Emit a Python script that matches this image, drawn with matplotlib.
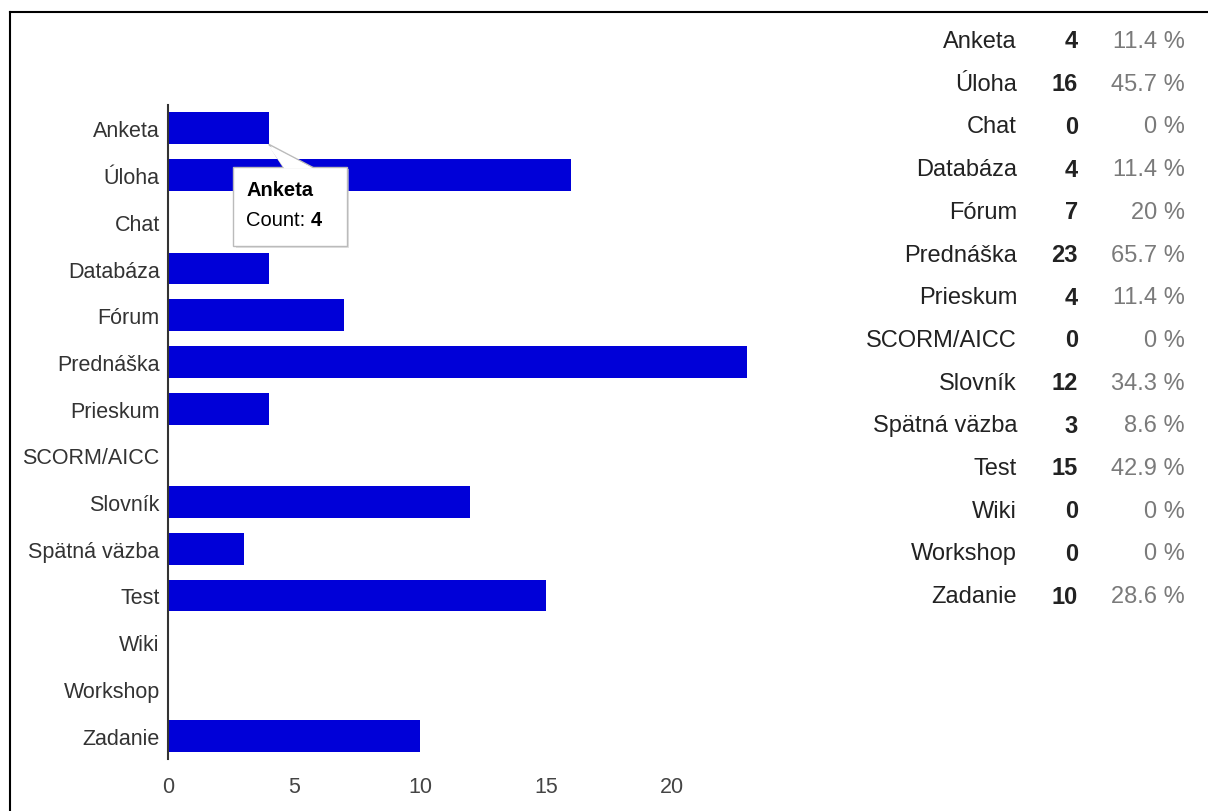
import matplotlib
matplotlib.use("Agg")
import matplotlib.pyplot as plt
from matplotlib.patches import Rectangle, Polygon
from matplotlib.lines import Line2D
import numpy as np

# ── Data ──────────────────────────────────────────────────────────────────────
CATEGORIES = ["Anketa", "Úloha", "Chat", "Databáza", "Fórum", "Prednáška",
              "Prieskum", "SCORM/AICC", "Slovník", "Spätná väzba", "Test",
              "Wiki", "Workshop", "Zadanie"]
COUNTS = [4, 16, 0, 4, 7, 23, 4, 0, 12, 3, 15, 0, 0, 10]
PERCENTS = ["11.4 %", "45.7 %", "0 %", "11.4 %", "20 %", "65.7 %", "11.4 %",
            "0 %", "34.3 %", "8.6 %", "42.9 %", "0 %", "0 %", "28.6 %"]
X_TICKS = [0, 5, 10, 15, 20]

BLUE = "#0000d8"
TEXT = "#222222"
GREY = "#7a7a7a"
FS = 15.5       # chart labels
FS_TAB = 17     # table on the right

plt.rcParams["font.family"] = ["Liberation Sans", "DejaVu Sans"]


def make_figure():
    fig = plt.figure(figsize=(12.08, 8.12), dpi=100)
    fig.patch.set_facecolor("white")

    # frame lines (left and top)
    fig.add_artist(Line2D([10 / 1208, 10 / 1208], [0, 1 - 13 / 812],
                          color="black", lw=1.5, transform=fig.transFigure))
    fig.add_artist(Line2D([10 / 1208, 1], [1 - 13 / 812, 1 - 13 / 812],
                          color="black", lw=1.5, transform=fig.transFigure))

    ax = fig.add_axes([168 / 1208, 52 / 812, 592 / 1208, 654 / 812])
    y = np.arange(len(CATEGORIES))
    ax.barh(y, COUNTS, height=0.68, color=BLUE, zorder=2)
    ax.set_xlim(0, 23.5)
    ax.set_ylim(len(CATEGORIES) - 0.5, -0.5)

    ax.set_yticks(y)
    ax.set_yticklabels(CATEGORIES, fontsize=FS, color="#333333")
    ax.set_xticks(X_TICKS)
    ax.set_xticklabels([str(t) for t in X_TICKS], fontsize=FS, color="#444444")
    ax.tick_params(axis="y", length=0, pad=6)
    ax.tick_params(axis="x", length=0, pad=12)
    for s in ["top", "right", "bottom"]:
        ax.spines[s].set_visible(False)
    ax.spines["left"].set_color("#333333")
    ax.spines["left"].set_linewidth(1.5)
    ax.spines["left"].set_zorder(3)

    # tooltip for Anketa
    v = COUNTS[0]
    bx0, bx1, by0, by1 = 2.6, 7.1, 0.83, 2.52
    ax.add_patch(Rectangle((bx0 + 0.08, by0 + 0.05), bx1 - bx0, by1 - by0,
                           facecolor="#d0d0d0", edgecolor="none", zorder=4,
                           alpha=0.6))
    ax.add_patch(Polygon([(v, 0.34), (4.6, by0 + 0.02), (5.8, by0 + 0.02)],
                         closed=True, facecolor="white", edgecolor="#bbbbbb",
                         lw=1, zorder=5))
    ax.add_patch(Rectangle((bx0, by0), bx1 - bx0, by1 - by0,
                           facecolor="white", edgecolor="#bbbbbb", lw=1,
                           zorder=5))
    ax.add_patch(Polygon([(v - 0.02, 0.37), (4.62, by0 + 0.03), (5.78, by0 + 0.03)],
                         closed=True, facecolor="white", edgecolor="none",
                         zorder=6))
    ax.text(bx0 + 0.5, 1.3, CATEGORIES[0], fontsize=FS - 1, fontweight="bold",
            color="black", va="center", ha="left", zorder=7)
    t = ax.text(bx0 + 0.5, 1.95, "Count: ", fontsize=FS - 1, color="black",
                va="center", ha="left", zorder=7)
    fig.canvas.draw()
    ext = t.get_window_extent()
    xd = ax.transData.inverted().transform((ext.x1, 0))[0]
    ax.text(xd, 1.95, str(v), fontsize=FS - 1, fontweight="bold",
            color="black", va="center", ha="left", zorder=7)

    # table on the right
    top, step = 1 - 42 / 812, 42.7 / 812
    for i, (name, c, p) in enumerate(zip(CATEGORIES, COUNTS, PERCENTS)):
        yy = top - i * step
        fig.text(1017 / 1208, yy, name, fontsize=FS_TAB, color=TEXT,
                 ha="right", va="center")
        fig.text(1078 / 1208, yy, str(c), fontsize=FS_TAB, color=TEXT,
                 fontweight="bold", ha="right", va="center")
        fig.text(1185 / 1208, yy, p, fontsize=FS_TAB, color=GREY,
                 ha="right", va="center")

    fig.savefig("out.png", dpi=100)
    plt.close(fig)


if __name__ == "__main__":
    make_figure()
